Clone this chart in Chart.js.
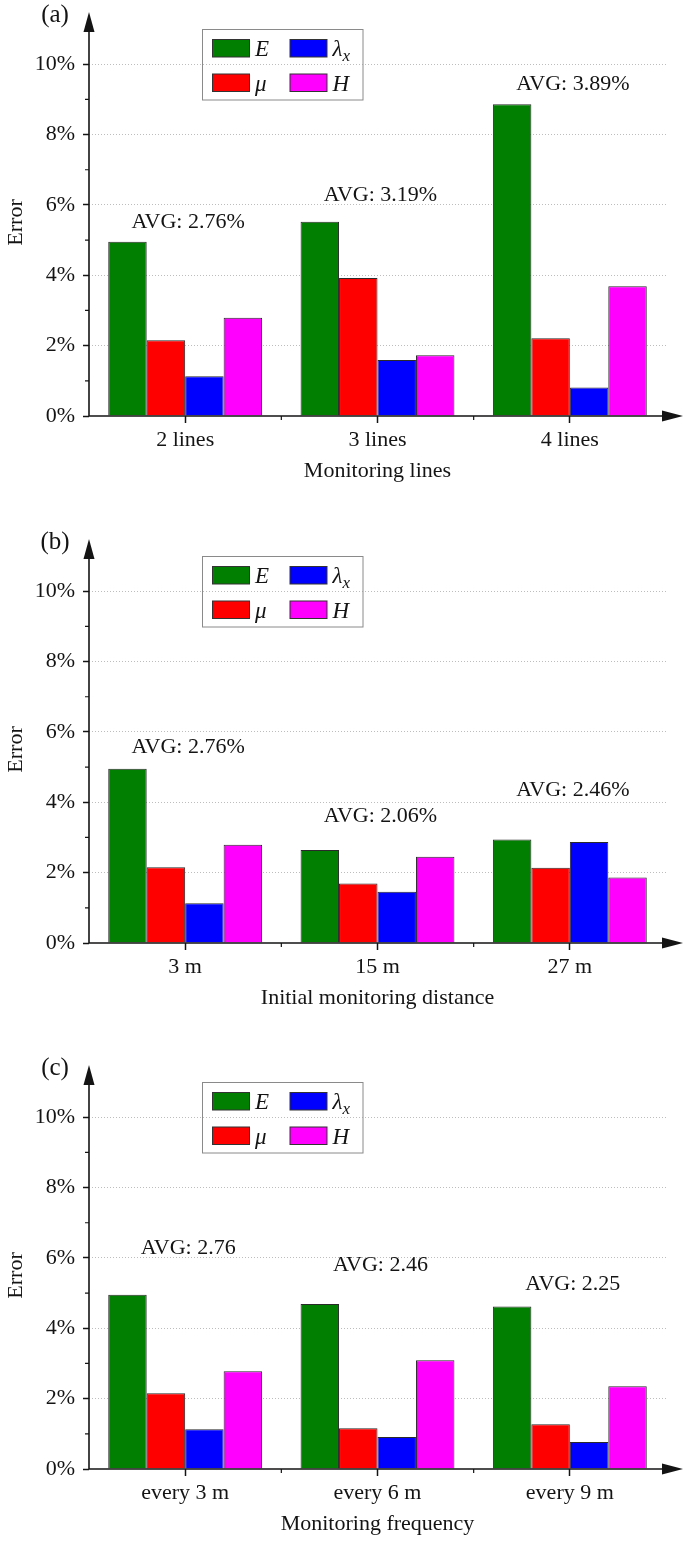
<!DOCTYPE html>
<html>
<head>
<meta charset="utf-8">
<script src="https://cdn.jsdelivr.net/npm/chart.js@4.4.1/dist/chart.umd.min.js"></script>
<style>
html, body { margin: 0; padding: 0; background: #fff; overflow: hidden; }
.panel { position: absolute; left: 0; width: 685px; }
</style>
</head>
<body>
<div class="panel" style="top:0px"><canvas id="chartA"></canvas></div>
<div class="panel" style="top:527px"><canvas id="chartB"></canvas></div>
<div class="panel" style="top:1053px"><canvas id="chartC"></canvas></div>
<script>
// series (bar order: E, mu, lambda_x, H)
var seriesNames = ['E', 'μ', 'λ', 'H'];
var seriesSubs = ['', '', 'x', ''];
var seriesColors = ['#007f00', '#ff0000', '#0000ff', '#ff00ff'];

// (a) monitoring lines
var catsA = ['2 lines', '3 lines', '4 lines'];
var eA = [4.95, 5.52, 8.86];
var muA = [2.15, 3.92, 2.21];
var lamA = [1.13, 1.59, 0.81];
var hA = [2.79, 1.73, 3.69];
var avgA = ['AVG: 2.76%', 'AVG: 3.19%', 'AVG: 3.89%'];
var avgAtA = [5.52, 6.28, 9.43];

// (b) initial monitoring distance
var catsB = ['3 m', '15 m', '27 m'];
var eB = [4.95, 2.64, 2.94];
var muB = [2.15, 1.69, 2.14];
var lamB = [1.13, 1.46, 2.87];
var hB = [2.79, 2.45, 1.86];
var avgB = ['AVG: 2.76%', 'AVG: 2.06%', 'AVG: 2.46%'];
var avgAtB = [5.57, 3.59, 4.35];

// (c) monitoring frequency
var catsC = ['every 3 m', 'every 6 m', 'every 9 m'];
var eC = [4.95, 4.69, 4.62];
var muC = [2.15, 1.16, 1.27];
var lamC = [1.13, 0.91, 0.77];
var hC = [2.78, 3.09, 2.35];
var avgC = ['AVG: 2.76', 'AVG: 2.46', 'AVG: 2.25'];
var avgAtC = [6.27, 5.80, 5.26];

var serif = "'Liberation Serif', 'Times New Roman', serif";
var ink = '#141414';

// axis lines with arrow heads, minor ticks, panel tag
var axisArrows = {
    id: 'axisArrows',
    afterDraw: function (chart, args, opts) {
        var ctx = chart.ctx;
        var xs = chart.scales.x, ys = chart.scales.y;
        var x0 = chart.chartArea.left;
        var y0 = ys.getPixelForValue(0);
        ctx.save();
        ctx.strokeStyle = ink;
        ctx.fillStyle = ink;
        ctx.lineWidth = 1.6;
        ctx.beginPath();
        ctx.moveTo(x0, y0 + 0.8);
        ctx.lineTo(x0, 30);
        ctx.moveTo(x0 - 0.8, y0);
        ctx.lineTo(chart.width - 22, y0);
        ctx.stroke();
        ctx.beginPath();
        ctx.moveTo(x0, 12);
        ctx.lineTo(x0 - 5.5, 32);
        ctx.lineTo(x0 + 5.5, 32);
        ctx.closePath();
        ctx.fill();
        ctx.beginPath();
        ctx.moveTo(chart.width - 2, y0);
        ctx.lineTo(chart.width - 23, y0 - 5.5);
        ctx.lineTo(chart.width - 23, y0 + 5.5);
        ctx.closePath();
        ctx.fill();
        // minor ticks
        ctx.lineWidth = 1.2;
        ctx.beginPath();
        for (var v = 1; v < 11; v += 2) {
            var py = ys.getPixelForValue(v);
            ctx.moveTo(x0 - 4, py);
            ctx.lineTo(x0, py);
        }
        for (var i = 0; i < xs.ticks.length - 1; i++) {
            var px = (xs.getPixelForValue(i) + xs.getPixelForValue(i + 1)) / 2;
            ctx.moveTo(px, y0);
            ctx.lineTo(px, y0 + 4);
        }
        ctx.stroke();
        ctx.font = '25px ' + serif;
        ctx.textAlign = 'center';
        ctx.textBaseline = 'middle';
        ctx.fillText(opts.tag, 55, 15);
        ctx.restore();
    }
};

var avgNotes = {
    id: 'avgNotes',
    afterDatasetsDraw: function (chart, args, opts) {
        var ctx = chart.ctx;
        ctx.save();
        ctx.font = '22px ' + serif;
        ctx.fillStyle = ink;
        ctx.textAlign = 'center';
        ctx.textBaseline = 'middle';
        for (var i = 0; i < opts.texts.length; i++) {
            ctx.fillText(opts.texts[i], chart.scales.x.getPixelForValue(i) + 3, chart.scales.y.getPixelForValue(opts.at[i]));
        }
        ctx.restore();
    }
};

var legendBox = {
    id: 'legendBox',
    afterDraw: function (chart) {
        var ctx = chart.ctx;
        ctx.save();
        ctx.lineWidth = 1;
        ctx.strokeStyle = '#8a8a8a';
        ctx.strokeRect(202.5, 29.5, 160.5, 70.5);
        chart.data.datasets.forEach(function (ds, i) {
            var col = Math.floor(i / 2), row = i % 2;
            var sx = 212.5 + col * 77.5, sy = 39.5 + row * 34.5;
            ctx.fillStyle = ds.backgroundColor;
            ctx.fillRect(sx, sy, 37, 17.5);
            ctx.strokeStyle = '#333';
            ctx.strokeRect(sx, sy, 37, 17.5);
            ctx.fillStyle = ink;
            ctx.textBaseline = 'alphabetic';
            ctx.textAlign = 'left';
            ctx.font = 'italic 23px ' + serif;
            var tx = sx + 42.5, ty = sy + 16.5;
            ctx.fillText(seriesNames[i], tx, ty);
            if (seriesSubs[i]) {
                var w = ctx.measureText(seriesNames[i]).width;
                ctx.font = 'italic 17px ' + serif;
                ctx.fillText(seriesSubs[i], tx + w, ty + 5);
            }
        });
        ctx.restore();
    }
};

function makeChart(id, height, tag, cats, series, avgTexts, avgAt, xTitle) {
    var canvas = document.getElementById(id);
    canvas.width = 685;
    canvas.height = height;
    canvas.style.width = '685px';
    canvas.style.height = height + 'px';

    var datasets = [];
    for (var i = 0; i < series.length; i++) {
        datasets.push({
            label: seriesNames[i] + seriesSubs[i],
            data: series[i],
            backgroundColor: seriesColors[i],
            borderColor: '#2a2a2a',
            borderWidth: 1,
            categoryPercentage: 0.8,
            barPercentage: 1
        });
    }

    return new Chart(canvas, {
        type: 'bar',
        data: { labels: cats, datasets: datasets },
        plugins: [axisArrows, avgNotes, legendBox],
        options: {
            responsive: false,
            animation: false,
            devicePixelRatio: 1,
            layout: { padding: { top: 29, right: 19, left: 0, bottom: height - 416 - 70 } },
            plugins: {
                legend: { display: false },
                tooltip: { enabled: false },
                axisArrows: { tag: tag },
                avgNotes: { texts: avgTexts, at: avgAt }
            },
            scales: {
                x: {
                    grid: { drawOnChartArea: false, offset: false, tickLength: 7, tickColor: ink, tickWidth: 1.5 },
                    border: { display: false },
                    ticks: { color: ink, padding: 4, font: { family: serif, size: 22 } },
                    title: { display: true, text: xTitle, color: ink, padding: 2, font: { family: serif, size: 22 } },
                    afterFit: function (s) { s.height = 70; }
                },
                y: {
                    min: 0,
                    max: 11,
                    ticks: {
                        stepSize: 2,
                        includeBounds: false,
                        color: ink,
                        padding: 8,
                        font: { family: serif, size: 22 },
                        callback: function (v) { return v + '%'; }
                    },
                    afterBuildTicks: function (s) {
                        s.ticks = s.ticks.filter(function (t) { return t.value <= 10; });
                    },
                    grid: {
                        color: function (c) { return c.tick && c.tick.value > 0 ? '#bdbdbd' : 'rgba(0,0,0,0)'; },
                        tickColor: ink,
                        tickWidth: 1.5,
                        tickLength: 6,
                        tickBorderDash: [],
                        lineWidth: 1
                    },
                    border: { display: false, dash: [1, 2] },
                    title: { display: true, text: 'Error', color: ink, padding: 3, font: { family: serif, size: 22 } },
                    afterFit: function (s) { s.width = 89; }
                }
            }
        }
    });
}

makeChart('chartA', 527, '(a)', catsA, [eA, muA, lamA, hA], avgA, avgAtA, 'Monitoring lines');
makeChart('chartB', 526, '(b)', catsB, [eB, muB, lamB, hB], avgB, avgAtB, 'Initial monitoring distance');
makeChart('chartC', 489, '(c)', catsC, [eC, muC, lamC, hC], avgC, avgAtC, 'Monitoring frequency');
</script>
</body>
</html>
